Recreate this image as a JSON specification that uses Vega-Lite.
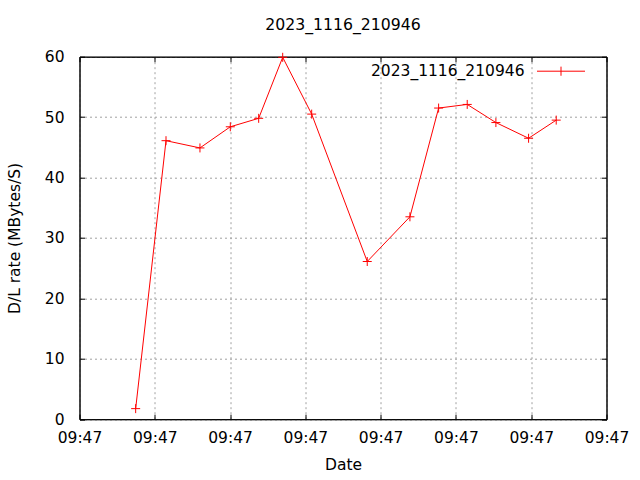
{
  "$schema": "https://vega.github.io/schema/vega-lite/v6.json",
  "width": 527,
  "height": 362.5,
  "autosize": {"type": "none"},
  "padding": {"left": 79.5, "top": 56.7, "right": 33.5, "bottom": 60.8},
  "background": "white",
  "title": {"text": "2023_1116_210946", "font": "DejaVu Sans", "fontSize": 15.7, "fontWeight": "normal", "color": "black", "offset": 13, "anchor": "middle"},
  "config": {
    "font": "DejaVu Sans",
    "view": {"stroke": "black", "strokeWidth": 1},
    "axis": {"labelFont": "DejaVu Sans", "titleFont": "DejaVu Sans", "labelFontSize": 15.5, "titleFontSize": 15.5, "titleFontWeight": "normal", "labelColor": "black", "titleColor": "black", "domain": true, "domainColor": "black", "domainWidth": 1, "tickColor": "black", "tickSize": -5, "gridColor": "#a0a0a0", "gridDash": [2, 3], "gridWidth": 1, "gridOpacity": 1, "labelFlush": false}
  },
  "data": {"values": [
    {"t": 0.746, "rate": 1.75, "series": "2023_1116_210946"},
    {"t": 1.149, "rate": 46.1, "series": "2023_1116_210946"},
    {"t": 1.600, "rate": 44.9, "series": "2023_1116_210946"},
    {"t": 2.003, "rate": 48.4, "series": "2023_1116_210946"},
    {"t": 2.380, "rate": 49.8, "series": "2023_1116_210946"},
    {"t": 2.699, "rate": 59.9, "series": "2023_1116_210946"},
    {"t": 3.084, "rate": 50.5, "series": "2023_1116_210946"},
    {"t": 3.822, "rate": 26.1, "series": "2023_1116_210946"},
    {"t": 4.389, "rate": 33.5, "series": "2023_1116_210946"},
    {"t": 4.770, "rate": 51.5, "series": "2023_1116_210946"},
    {"t": 5.150, "rate": 52.1, "series": "2023_1116_210946"},
    {"t": 5.531, "rate": 49.1, "series": "2023_1116_210946"},
    {"t": 5.965, "rate": 46.5, "series": "2023_1116_210946"},
    {"t": 6.332, "rate": 49.5, "series": "2023_1116_210946"}
  ]},
  "layer": [
    {
      "mark": {"type": "line", "strokeWidth": 1, "clip": true},
      "encoding": {
        "x": {"field": "t", "type": "quantitative", "scale": {"domain": [0, 7], "nice": false, "zero": false},
              "axis": {"orient": "bottom", "values": [0, 1, 2, 3, 4, 5, 6, 7], "labelExpr": "'09:47'", "title": "Date", "labelPadding": 16, "titlePadding": 12, "grid": true, "labelOverlap": false}},
        "y": {"field": "rate", "type": "quantitative", "scale": {"domain": [0, 60], "nice": false},
              "axis": {"orient": "left", "values": [0, 10, 20, 30, 40, 50, 60], "title": "D/L rate (MBytes/S)", "labelPadding": 20.5, "titlePadding": 22, "grid": true}},
        "color": {"field": "series", "type": "nominal", "scale": {"range": ["#ff0000"]},
                  "legend": {"orient": "none", "legendX": 457, "legendY": -10, "title": null, "padding": 0,
                             "symbolType": "M-1,0H1M0,-0.19V0.19", "symbolSize": 2304, "symbolStrokeWidth": 1,
                             "labelFont": "DejaVu Sans", "labelFontSize": 15.5, "labelColor": "black",
                             "labelAlign": "right", "labelOffset": -61}}
      }
    },
    {
      "mark": {"type": "point", "shape": "M-1,0H1M0,-1V1", "size": 81, "filled": false, "strokeWidth": 1, "color": "#ff0000", "opacity": 1},
      "encoding": {
        "x": {"field": "t", "type": "quantitative", "axis": null},
        "y": {"field": "rate", "type": "quantitative", "axis": null}
      }
    },
    {
      "mark": {"type": "point", "opacity": 0},
      "encoding": {
        "x": {"field": "t", "type": "quantitative", "axis": {"orient": "top", "values": [0, 1, 2, 3, 4, 5, 6, 7], "labels": false, "title": null, "grid": false}},
        "y": {"field": "rate", "type": "quantitative", "axis": {"orient": "right", "values": [0, 10, 20, 30, 40, 50, 60], "labels": false, "title": null, "grid": false}}
      }
    }
  ],
  "resolve": {"axis": {"x": "independent", "y": "independent"}}
}
